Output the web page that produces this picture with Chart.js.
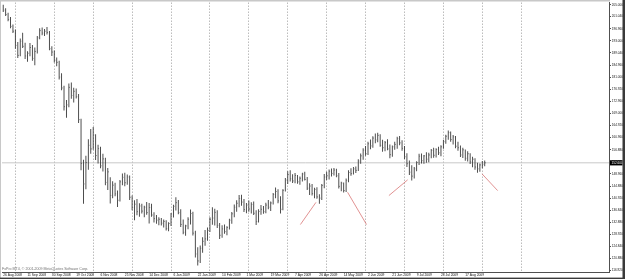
<!DOCTYPE html>
<html><head><meta charset="utf-8">
<script src="https://cdn.jsdelivr.net/npm/chart.js@4.4.1/dist/chart.umd.min.js"></script>
<style>html,body{margin:0;padding:0;background:#fff;}#wrap{width:625px;height:279px;}canvas{display:block;}</style>
</head><body><div id="wrap"><canvas id="c" width="625" height="279"></canvas></div>
<script>
// Daily bars, GBPJPY-like, Aug 2008 - Aug 2009
const highs = [205.0,203.8,202.3,200.9,198.4,196.8,192.6,193.8,195.7,192.4,
189.6,192.3,191.6,190.8,194.6,197.2,197.4,196.9,197.6,196.3,
191.2,189.8,187.5,186.4,182.3,178.1,173.4,178.9,179.2,177.5,
177.2,175.4,167.2,153.6,154.9,160.4,163.8,164.5,162.1,158.6,
157.9,155.6,154.3,150.9,147.8,146.5,146.0,143.4,146.9,149.1,
149.3,148.7,148.4,141.8,140.2,140.6,139.2,139.0,138.4,139.6,
139.3,139.0,136.2,135.3,134.6,134.3,133.8,133.6,132.9,136.0,
138.7,141.2,140.3,137.2,133.8,132.1,134.6,137.1,136.4,130.1,
124.6,125.2,127.9,130.3,131.2,134.6,137.9,137.4,136.9,132.7,
131.9,132.2,131.6,134.1,136.3,138.8,140.2,141.9,142.0,140.6,
139.3,140.1,139.5,139.8,136.9,137.2,138.6,138.3,139.4,140.3,
139.8,142.6,144.4,143.8,141.5,143.8,147.6,149.8,150.1,148.8,
149.2,148.6,148.1,149.3,149.6,147.9,145.8,145.6,144.3,144.5,
142.2,145.6,148.9,149.6,150.4,150.7,150.9,150.6,149.2,146.3,
146.1,147.4,150.1,150.8,151.2,151.4,153.8,155.7,157.4,158.2,
159.6,160.3,161.4,162.3,162.6,162.1,160.2,159.8,160.4,158.7,
158.3,159.6,161.2,161.5,160.1,158.2,155.8,153.4,151.8,151.2,
153.1,155.6,155.7,155.2,156.1,155.9,157.2,157.6,157.4,157.9,
158.4,160.2,161.9,163.3,163.0,161.8,161.5,159.6,158.3,157.6,
157.0,156.4,155.8,154.6,154.1,152.6,152.4,153.2,153.4];
const lows = [202.6,201.2,199.5,197.2,195.6,190.4,187.3,187.9,190.6,187.0,
186.1,187.9,186.4,184.9,188.8,193.5,194.9,194.6,195.1,189.9,
188.0,185.8,184.6,180.2,176.6,169.9,167.5,171.0,173.8,172.6,
173.9,165.8,150.1,139.0,143.8,150.3,155.6,156.9,153.5,152.4,
150.8,149.7,145.2,143.6,139.1,140.9,141.5,138.0,139.8,145.2,
144.8,145.3,140.3,136.9,133.6,135.2,134.7,135.8,134.6,135.4,
132.5,134.7,132.8,132.4,131.9,131.8,131.2,130.2,129.9,131.7,
134.5,136.8,135.6,131.3,128.9,128.4,130.6,132.2,128.5,121.2,
118.6,119.4,122.8,125.1,126.8,129.7,132.1,131.8,131.0,127.4,
127.8,129.1,128.6,130.5,132.4,134.6,136.4,137.9,138.4,136.3,
135.9,136.4,135.8,135.3,132.0,132.8,135.4,135.7,135.9,137.2,
136.6,138.8,140.9,139.2,135.8,136.9,143.1,145.6,146.4,145.9,
145.8,145.7,145.3,146.4,146.7,143.6,141.9,141.8,140.9,140.7,
139.0,140.3,144.2,146.9,147.1,148.1,148.4,147.8,144.1,143.2,
142.8,142.9,146.2,148.3,148.7,149.2,149.9,152.3,153.6,154.9,
155.2,157.1,157.6,159.1,159.4,157.9,156.3,156.4,156.8,154.1,
154.6,156.9,157.3,158.4,156.6,153.9,151.2,148.6,146.7,147.4,
149.8,151.9,152.4,152.3,152.6,152.8,154.1,154.3,154.4,155.2,
154.8,157.3,158.9,160.2,159.6,158.7,157.4,156.6,154.5,154.2,
153.3,153.0,152.2,151.1,150.3,149.3,149.6,150.8,151.5];
const closes = [203.2,201.7,200.1,197.8,196.2,191.5,188.2,192.9,191.2,188.0,
188.9,190.8,187.2,189.5,194.0,196.4,195.6,196.2,195.8,190.4,
189.3,186.6,185.9,181.0,177.4,171.2,171.8,177.6,174.9,176.3,
174.5,166.9,152.4,145.6,152.7,158.4,157.2,161.8,155.0,157.3,
151.6,153.9,146.1,149.6,141.8,145.2,142.3,140.2,146.3,147.8,
146.0,147.9,141.2,137.8,138.9,136.4,138.3,136.6,137.9,136.1,
137.8,135.3,134.1,133.6,133.9,132.6,133.2,130.8,132.5,135.6,
138.2,139.4,136.1,132.2,129.6,131.7,133.9,135.8,129.3,122.4,
120.1,124.3,126.6,127.4,130.2,133.9,134.3,136.2,131.9,128.6,
130.7,129.8,131.2,133.6,135.7,137.9,139.2,140.8,139.6,137.1,
138.6,137.3,138.8,135.9,133.1,136.5,137.2,136.4,138.6,137.9,
139.3,142.1,143.1,140.0,137.2,143.5,146.9,148.7,147.3,146.6,
148.4,146.3,147.5,148.9,147.1,144.2,144.9,142.4,143.8,141.3,
140.9,145.1,147.9,148.3,149.8,149.1,150.2,148.3,144.8,145.9,
143.4,146.8,149.4,149.0,150.6,150.1,153.2,154.9,156.8,155.6,
158.9,158.2,160.8,160.2,161.7,158.4,157.6,159.3,157.2,155.3,
157.9,158.7,160.6,159.2,157.4,154.6,152.3,149.5,148.2,150.6,
152.7,154.8,153.3,154.9,153.8,155.2,156.7,155.1,157.0,155.9,
157.9,159.6,161.4,162.6,160.3,161.2,158.1,157.6,155.2,156.9,
154.1,155.6,152.9,153.8,151.2,150.6,151.9,152.1,152.6];
const dateLabels = ["26 Aug 2008","11 Sep 2008","30 Sep 2008","19 Oct 2008","6 Nov 2008",
"25 Nov 2008","14 Dec 2008","6 Jan 2009","22 Jan 2009","10 Feb 2009","1 Mar 2009",
"19 Mar 2009","7 Apr 2009","26 Apr 2009","14 May 2009","2 Jun 2009","21 Jun 2009",
"9 Jul 2009","28 Jul 2009","17 Aug 2009"];
const labelBars = [0,10,20,30,40,50,60,70,80,90,100,110,120,130,140,150,160,170,180,190];
const gridBars = [5,21,37,53,69,85,101,117,133,149,165,181,197,213];
const priceTicks = [116.92,120.88,124.84,128.92,132.88,136.84,140.92,144.88,148.96,152.92,
156.88,160.96,164.92,169.00,172.96,176.92,181.00,184.96,189.04,193.00,196.96,201.04,205.00];
const trend1 = [{x:122.2,y:132.15},{x:128.6,y:139.5}];
const trend2 = [{x:141.6,y:142.85},{x:149.4,y:132.15}];
const trend3 = [{x:158.6,y:141.75},{x:166.3,y:146.95}];
const trend4 = [{x:196.9,y:148.93},{x:203.3,y:143.4}];
const copyright = "FxPro MT4, © 2001-2009 MetaQuotes Software Corp.";

const X_MIN = -0.5, X_MAX = 249.1, Y_MIN = 116.26, Y_MAX = 205.66;
const lastClose = closes[closes.length-1];
const FONT = "'Liberation Sans', Arial, sans-serif";
const TREND = 'rgba(215,110,110,0.75)';

const framePlugin = {
  id: 'frame',
  afterDraw(chart){
    const ctx = chart.ctx, ca = chart.chartArea, ys = chart.scales.y;
    ctx.save();
    ctx.fillStyle = '#707070';
    ctx.font = "3.6px " + FONT;
    ctx.textBaseline = 'alphabetic';
    ctx.textAlign = 'left';
    ctx.fillText(copyright, 2, 270);
    const py = ys.getPixelForValue(lastClose);
    ctx.fillStyle = '#000';
    ctx.fillRect(ca.right + 1, py - 2.6, 12.5, 5.2);
    ctx.fillStyle = '#fff';
    ctx.font = "3.1px " + FONT;
    ctx.textBaseline = 'middle';
    ctx.fillText(lastClose.toFixed(3), ca.right + 2.5, py + 0.2);
    ctx.fillStyle = '#c8c8c8';
    ctx.fillRect(0, 0, ca.right + 1, 1.5);
    ctx.fillRect(0, 0, 1, 279);
    ctx.fillStyle = '#3a3a3a';
    ctx.fillRect(622.5, 0, 2.5, 279);
    ctx.fillRect(0, 277.6, 625, 1.4);
    ctx.restore();
  }
};

new Chart(document.getElementById('c'), {
  type: 'bar',
  data: {
    datasets: [
      { type:'bar', order:2, data: highs.map((h,i)=>({x:i, y:[lows[i], h]})),
        backgroundColor:'#3a3a3a', borderWidth:0, barThickness:0.9, inflateAmount:0, grouped:false },
      { type:'line', order:1, data: closes.map((c,i)=>({x:i, y:c})), showLine:false,
        pointStyle:'dash', pointRadius:1, pointBorderColor:'#666', pointBorderWidth:1,
        pointHoverRadius:0 },
      { type:'line', order:5, data:[{x:X_MIN,y:lastClose},{x:X_MAX,y:lastClose}],
        borderColor:'#c8c8c8', borderWidth:1, pointRadius:0 },
      { type:'line', order:0, data:trend1, borderColor:TREND, borderWidth:1, pointRadius:0 },
      { type:'line', order:0, data:trend2, borderColor:TREND, borderWidth:1, pointRadius:0 },
      { type:'line', order:0, data:trend3, borderColor:TREND, borderWidth:1, pointRadius:0 },
      { type:'line', order:0, data:trend4, borderColor:TREND, borderWidth:1, pointRadius:0 }
    ]
  },
  options: {
    responsive:false, devicePixelRatio:1, animation:false,
    layout:{ padding:{ top:2, left:0, right:0, bottom:0 } },
    plugins:{ legend:{display:false}, tooltip:{enabled:false} },
    scales:{
      x:{ type:'linear', min:X_MIN, max:X_MAX, offset:false, position:'bottom',
        afterBuildTicks(s){ s.ticks = labelBars.concat(gridBars).sort((a,b)=>a-b).map(v=>({value:v})); },
        afterFit(s){ s.height = 6.5; },
        ticks:{ autoSkip:false, maxRotation:0, minRotation:0, align:'start', padding:0.5,
          color:'#111', font:{family:FONT, size:3.3},
          callback(v){ const k = labelBars.indexOf(v); return k >= 0 ? dateLabels[k] : ''; } },
        grid:{ offset:false, drawTicks:false, lineWidth:1,
          color(ctx){ return (ctx.tick && gridBars.includes(ctx.tick.value)) ? '#9a9a9a' : 'rgba(0,0,0,0)'; } },
        border:{ display:true, color:'#505050', width:1, dash:[1,2] }
      },
      y:{ type:'linear', position:'right', min:Y_MIN, max:Y_MAX,
        afterBuildTicks(s){ s.ticks = priceTicks.map(v=>({value:v})); },
        afterFit(s){ s.width = 16; },
        ticks:{ padding:0.8, color:'#111', font:{family:FONT, size:3.1},
          callback(v){ return Number(v).toFixed(3); } },
        grid:{ drawOnChartArea:false, drawTicks:true, tickLength:2, color:'#505050', offset:false },
        border:{ display:true, color:'#505050', width:1 }
      }
    }
  },
  plugins:[framePlugin]
});
</script>
</body></html>
